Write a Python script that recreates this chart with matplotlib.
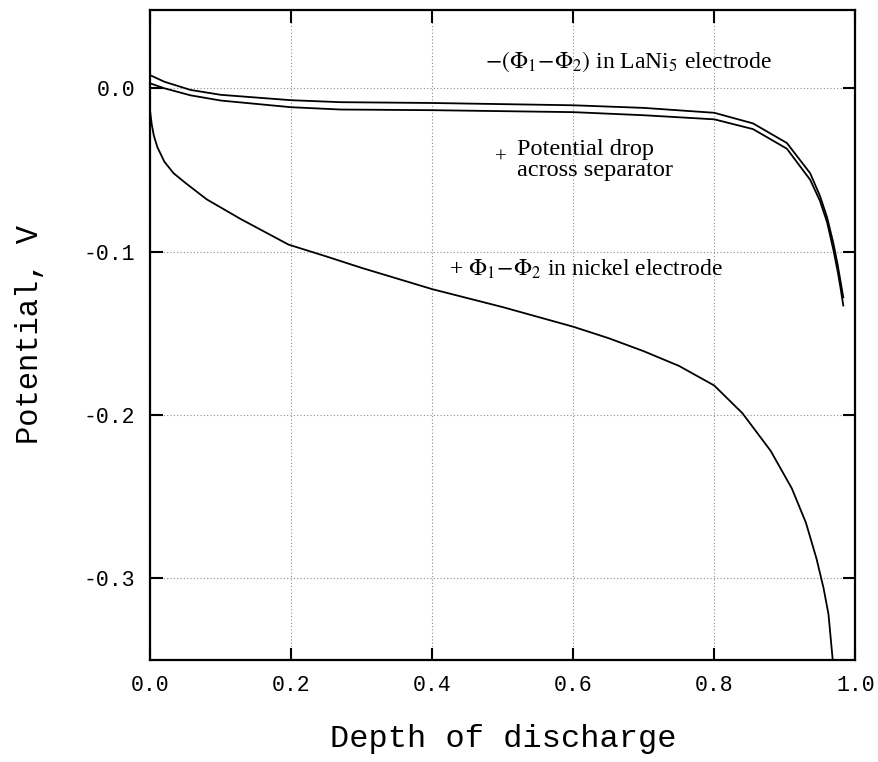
import numpy as np
import matplotlib
matplotlib.use('Agg')
import matplotlib.pyplot as plt

# curves
x_top = [0.0, 0.02, 0.057, 0.1, 0.2, 0.27, 0.4, 0.6, 0.7, 0.8, 0.855, 0.903,
         0.936, 0.95, 0.96, 0.969, 0.975, 0.979, 0.983]
y_lani5 = [0.008, 0.004, -0.001, -0.004, -0.0073, -0.0085, -0.009, -0.0104,
           -0.012, -0.015, -0.0215, -0.0335, -0.052, -0.066, -0.079, -0.095,
           -0.108, -0.118, -0.128]
y_sep = [0.003, 0.0, -0.0043, -0.0075, -0.0116, -0.013, -0.0134, -0.0146,
         -0.0165, -0.019, -0.025, -0.037, -0.056, -0.069, -0.082, -0.099,
         -0.112, -0.122, -0.133]

x_ni = [0.0, 0.002, 0.005, 0.01, 0.02, 0.033, 0.05, 0.08, 0.128, 0.196, 0.25,
        0.3, 0.4, 0.5, 0.6, 0.65, 0.7, 0.75, 0.8, 0.84, 0.88, 0.91, 0.93, 0.945,
        0.955, 0.962, 0.968]
y_ni = [-0.015, -0.022, -0.029, -0.036, -0.045, -0.052, -0.058, -0.068, -0.080,
        -0.0957, -0.103, -0.110, -0.123, -0.134, -0.146, -0.153, -0.161, -0.170,
        -0.182, -0.199, -0.222, -0.245, -0.266, -0.288, -0.306, -0.322, -0.350]

x_ticks = [0.0, 0.2, 0.4, 0.6, 0.8, 1.0]
y_ticks = [0.0, -0.1, -0.2, -0.3]

plt.rcParams['mathtext.fontset'] = 'stix'
mono = 'Liberation Mono'
serif = 'Liberation Serif'

fig = plt.figure(figsize=(8.79, 7.62), dpi=100)
ax = fig.add_axes([0.171, 0.134, 0.802, 0.853])

ax.plot(x_top, y_lani5, color='black', lw=1.3)
ax.plot(x_top, y_sep, color='black', lw=1.3)
ax.plot(x_ni, y_ni, color='black', lw=1.3)

ax.set_xlim(0, 1.0)
ax.set_ylim(-0.35, 0.048)
ax.set_xticks(x_ticks)
ax.set_yticks(y_ticks)
ax.set_xticklabels([f'{v:.1f}' for v in x_ticks], family=mono, fontsize=15.5)
ax.set_yticklabels([f'{v:.1f}' for v in y_ticks], family=mono, fontsize=15.5)
ax.tick_params(direction='in', length=9, width=1.5, top=True, right=True, pad=11)
ax.grid(True, color='0.55', linestyle=(0, (1, 2)), lw=0.8)
for s in ax.spines.values():
    s.set_linewidth(1.6)

ax.set_xlabel('Depth of discharge', family=mono, fontsize=23, labelpad=20)
ax.set_ylabel('Potential, V', family=mono, fontsize=22, labelpad=28)

ax.text(0.475, 0.016, r'$-(\Phi_1\!-\!\Phi_2)$ in LaNi$_5$ electrode',
        family=serif, fontsize=17, va='center')
ax.text(0.497, -0.0425, '+', family=serif, fontsize=15, va='center', ha='center')
ax.text(0.52, -0.0439, 'Potential drop\nacross separator', family=serif,
        fontsize=17.5, va='center', linespacing=1.0)
ax.text(0.423, -0.111, r'+ $\Phi_1\!-\!\Phi_2$ in nickel electrode',
        family=serif, fontsize=17, va='center')

fig.savefig('out.png', dpi=100)
